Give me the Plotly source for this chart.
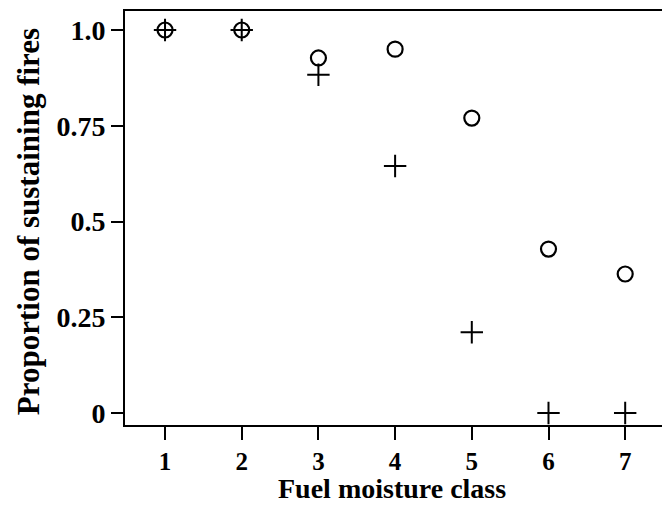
import plotly.graph_objects as go

moisture_class = [1, 2, 3, 4, 5, 6, 7]
series_circle = [1.0, 1.0, 0.927, 0.950, 0.770, 0.428, 0.363]
series_plus = [1.0, 1.0, 0.883, 0.645, 0.211, 0.0, 0.0]
y_tick_vals = [0, 0.25, 0.5, 0.75, 1.0]
y_tick_text = ["0", "0.25", "0.5", "0.75", "1.0"]
x_title = "Fuel moisture class"
y_title = "Proportion of sustaining fires"

FONT = "Liberation Serif"

fig = go.Figure()
fig.add_trace(go.Scatter(
    x=moisture_class, y=series_circle, mode="markers",
    marker=dict(symbol="circle-open", size=15, color="black", line=dict(width=2.2, color="black")),
    showlegend=False, cliponaxis=False,
))
fig.add_trace(go.Scatter(
    x=moisture_class, y=series_plus, mode="markers",
    marker=dict(symbol="cross-thin-open", size=16, color="black", line=dict(width=2, color="black")),
    showlegend=False, cliponaxis=False,
))

fig.update_layout(
    width=662, height=506,
    margin=dict(l=125, r=0, t=11, b=81),
    paper_bgcolor="white", plot_bgcolor="white",
    font=dict(family=FONT, color="black"),
    xaxis=dict(
        range=[0.478, 7.48], tickvals=moisture_class, ticktext=[str(v) for v in moisture_class],
        showgrid=False, zeroline=False, showline=True, linecolor="black", linewidth=2,
        mirror=True, ticks="outside", ticklen=13, tickwidth=2, tickcolor="black",
        tickfont=dict(family=FONT, size=25, color="black", weight="bold"),
    ),
    yaxis=dict(
        range=[-0.0313, 1.0496], tickvals=y_tick_vals, ticktext=y_tick_text,
        showgrid=False, zeroline=False, showline=True, linecolor="black", linewidth=2,
        ticks="outside", ticklen=12, tickwidth=2, tickcolor="black",
        tickfont=dict(family=FONT, size=28, color="black", weight="bold"),
    ),
    annotations=[
        dict(text="<b>%s</b>" % x_title, xref="paper", yref="paper", x=0.497, y=(425 - 506) / 414,
             xanchor="center", yanchor="bottom", showarrow=False,
             font=dict(family=FONT, size=28, color="black")),
        dict(text="<b>%s</b>" % y_title, xref="paper", yref="paper", x=(28 - 125) / 537, y=0.49,
             xanchor="center", yanchor="middle", showarrow=False, textangle=-90,
             font=dict(family=FONT, size=31, color="black")),
    ],
)

fig.write_html("out.html", config={"displayModeBar": False},
               post_script="document.body.style.margin='0';")
